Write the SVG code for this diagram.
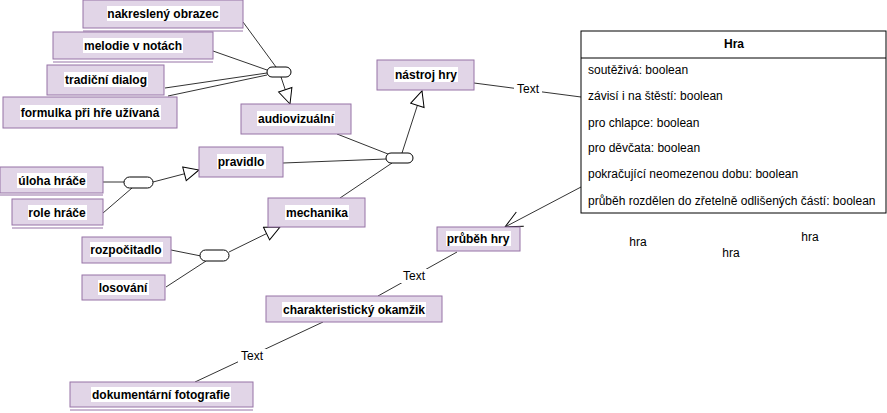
<svg xmlns="http://www.w3.org/2000/svg" width="887" height="413" viewBox="0 0 887 413">
<style>
.box{fill:#e1d5e7;stroke:#9673a6;stroke-width:1}
.dbl{stroke:#9673a6;stroke-width:1}
.bg{fill:#fff}
.lb{font-family:"Liberation Sans",Arial,sans-serif;font-size:12px;font-weight:bold;fill:#000;text-anchor:middle}
.tx{font-family:"Liberation Sans",Arial,sans-serif;font-size:12px;fill:#000}
.ln{fill:none;stroke:#333;stroke-width:1}
.pill{fill:#fff;stroke:#000;stroke-width:1}
.cls{fill:#fff;stroke:#000;stroke-width:1}
</style>
<defs>
<marker id="tri" markerUnits="userSpaceOnUse" markerWidth="18" markerHeight="16" refX="16" refY="8" orient="auto"><path d="M1,1 L16,8 L1,15 Z" fill="#fff" stroke="#000"/></marker>
<marker id="open" markerUnits="userSpaceOnUse" markerWidth="20" markerHeight="18" refX="18" refY="9" orient="auto"><path d="M1,1 L18,9 L1,17" fill="none" stroke="#000"/></marker>
</defs>
<rect width="887" height="413" fill="#fff"/>
<g id="connectors">
<path class="ln" d="M243,22 L276,67"/>
<path class="ln" d="M213,51 L267,70"/>
<path class="ln" d="M165,88 L267,73"/>
<path class="ln" d="M168,96 L267,75"/>
<path class="ln" d="M281,77 L290,104" marker-end="url(#tri)"/>
<path class="ln" d="M337,134 L388,154"/>
<path class="ln" d="M283,163 L386,159"/>
<path class="ln" d="M340,198 L392,163"/>
<path class="ln" d="M402,153 L422,91" marker-end="url(#tri)"/>
<path class="ln" d="M474,83 L581,97"/>
<path class="ln" d="M581,187 L505,227" marker-end="url(#open)"/>
<path class="ln" d="M457,252 L378,296"/>
<path class="ln" d="M323,322 L195,382"/>
<path class="ln" d="M103,182 L124,182"/>
<path class="ln" d="M103,213 L132,188"/>
<path class="ln" d="M153,182 L199,170" marker-end="url(#tri)"/>
<path class="ln" d="M171,250 L201,256"/>
<path class="ln" d="M166,287 L206,261"/>
<path class="ln" d="M229,252 L280,227" marker-end="url(#tri)"/>
<rect class="bg" x="514" y="82" width="28" height="14"/>
<text class="tx" x="528" y="93" text-anchor="middle">Text</text>
<rect class="bg" x="400" y="269" width="28" height="14"/>
<text class="tx" x="414" y="280" text-anchor="middle">Text</text>
<rect class="bg" x="238" y="349" width="28" height="14"/>
<text class="tx" x="252" y="360" text-anchor="middle">Text</text>
</g>
<g id="pill1"><rect class="pill" x="267" y="67" width="24" height="10" rx="5"/></g>
<g id="pill2"><rect class="pill" x="386" y="153" width="27" height="10" rx="5"/></g>
<g id="pill3"><rect class="pill" x="124" y="177" width="29" height="11" rx="5.5"/></g>
<g id="pill4"><rect class="pill" x="200" y="250" width="29" height="11" rx="5.5"/></g>
<g id="n-nakresleny"><rect class="box" x="83" y="0" width="160" height="28"/><line class="dbl" x1="83" y1="31" x2="243" y2="31"/><rect class="bg" x="107" y="6" width="113" height="15"/><text class="lb" x="163" y="18">nakreslený obrazec</text></g>
<g id="n-melodie"><rect class="box" x="53" y="32" width="160" height="27"/><line class="dbl" x1="53" y1="62" x2="213" y2="62"/><rect class="bg" x="83" y="38" width="100" height="15"/><text class="lb" x="133" y="50">melodie v notách</text></g>
<g id="n-tradicni"><rect class="box" x="47" y="65" width="117" height="30"/><rect class="bg" x="64" y="72" width="84" height="15"/><text class="lb" x="106" y="84">tradiční dialog</text></g>
<g id="n-formulka"><rect class="box" x="3" y="97" width="174" height="31"/><rect class="bg" x="20" y="105" width="141" height="15"/><text class="lb" x="90" y="117">formulka při hře užívaná</text></g>
<g id="n-audio"><rect class="box" x="241" y="104" width="110" height="30"/><rect class="bg" x="257" y="111" width="78" height="15"/><text class="lb" x="296" y="123">audiovizuální</text></g>
<g id="n-nastroj"><rect class="box" x="377" y="60" width="97" height="30"/><rect class="bg" x="394" y="67" width="64" height="15"/><text class="lb" x="426" y="79">nástroj hry</text></g>
<g id="n-pravidlo"><rect class="box" x="199" y="147" width="84" height="30"/><rect class="bg" x="217" y="154" width="49" height="15"/><text class="lb" x="241" y="166">pravidlo</text></g>
<g id="n-mechanika"><rect class="box" x="268" y="198" width="97" height="29"/><rect class="bg" x="285" y="205" width="64" height="15"/><text class="lb" x="317" y="217">mechanika</text></g>
<g id="n-uloha"><rect class="box" x="0" y="167" width="103" height="26"/><line class="dbl" x1="0" y1="195" x2="103" y2="195"/><rect class="bg" x="17" y="173" width="70" height="15"/><text class="lb" x="52" y="185">úloha hráče</text></g>
<g id="n-role"><rect class="box" x="12" y="199" width="91" height="26"/><line class="dbl" x1="12" y1="228" x2="103" y2="228"/><rect class="bg" x="28" y="205" width="59" height="15"/><text class="lb" x="57" y="217">role hráče</text></g>
<g id="n-rozpocitadlo"><rect class="box" x="82" y="237" width="89" height="26"/><rect class="bg" x="90" y="242" width="73" height="15"/><text class="lb" x="126" y="254">rozpočitadlo</text></g>
<g id="n-losovani"><rect class="box" x="82" y="275" width="83" height="25"/><rect class="bg" x="98" y="280" width="51" height="15"/><text class="lb" x="123" y="292">losování</text></g>
<g id="n-prubeh"><rect class="box" x="437" y="227" width="83" height="24"/><rect class="bg" x="446" y="231" width="65" height="15"/><text class="lb" x="478" y="243">průběh hry</text></g>
<g id="n-charakteristicky"><rect class="box" x="266" y="296" width="176" height="26"/><rect class="bg" x="282" y="302" width="144" height="15"/><text class="lb" x="354" y="314">charakteristický okamžik</text></g>
<g id="n-dokumentarni"><rect class="box" x="70" y="382" width="183" height="25"/><line class="dbl" x1="70" y1="410" x2="253" y2="410"/><rect class="bg" x="91" y="387" width="140" height="15"/><text class="lb" x="161" y="399">dokumentární fotografie</text></g>
<g id="n-hra">
<rect class="cls" x="581" y="31" width="305" height="182"/>
<line x1="581" y1="58" x2="886" y2="58" stroke="#000"/>
<text class="lb" x="734" y="48">Hra</text>
<text class="tx" x="588" y="74">soutěživá: boolean</text>
<text class="tx" x="588" y="100">závisí i na štěstí: boolean</text>
<text class="tx" x="588" y="127">pro chlapce: boolean</text>
<text class="tx" x="588" y="152">pro děvčata: boolean</text>
<text class="tx" x="588" y="178">pokračující neomezenou dobu: boolean</text>
<text class="tx" x="588" y="205">průběh rozdělen do zřetelně odlišených částí: boolean</text>
</g>
<g id="labels-hra">
<text class="tx" x="638" y="246" text-anchor="middle">hra</text>
<text class="tx" x="731" y="257" text-anchor="middle">hra</text>
<text class="tx" x="810" y="241" text-anchor="middle">hra</text>
</g>
</svg>
